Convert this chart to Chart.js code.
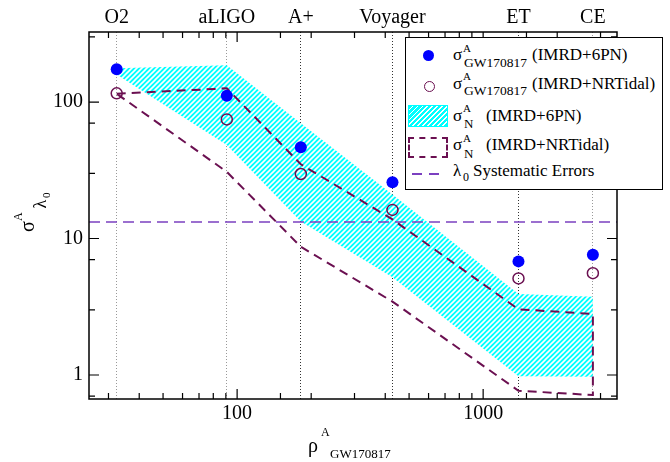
<!DOCTYPE html>
<html>
<head>
<meta charset="utf-8">
<script src="https://cdn.jsdelivr.net/npm/chart.js@4.4.1/dist/chart.umd.min.js"></script>
<style>
  body { margin: 0; background: #fff; }
  #wrap { position: relative; width: 670px; height: 462px; font-family: 'Liberation Serif', 'Times New Roman', serif; color: #000; }
  #wrap canvas { position: absolute; left: 0; top: 0; }
  .t { position: absolute; white-space: nowrap; line-height: 1; }
  #legend { position: absolute; left: 405px; top: 37px; width: 256px; height: 151px; border: 1px solid #000; background: #fff; }
  #ytitle { position: absolute; left: 16px; top: 232px; width: 0; height: 0; transform-origin: 0 0; transform: rotate(-90deg); }
  .sym { position: absolute; box-sizing: border-box; }
</style>
</head>
<body>
<div id="wrap">
  <canvas id="chart" width="670" height="462"></canvas>
  <div id="ytitle"></div>
  <div id="xtitle"></div>
  <div id="legend"></div>
</div>
<script>
// --- Data ---
const detectors = ['O2', 'aLIGO', 'A+', 'Voyager', 'ET', 'CE']
const snr = [32.4, 90.8, 181.5, 428, 1392, 2793]
const sigma6PN = [174, 111, 46.6, 25.8, 6.8, 7.6]
const sigmaNRT = [115.8, 74.6, 29.7, 16.2, 5.1, 5.57]
const band6PNUpper = [177, 186, 70, 21, 3.92, 3.75]
const band6PNLower = [159, 48.4, 13.3, 5.2, 0.98, 0.97]
const bandNRTUpper = [115, 126, 35, 13.8, 3.03, 2.8]
const bandNRTLower = [115, 30.8, 8.7, 3.45, 0.767, 0.713]
const lambda0Error = 13.2
const xRange = [25, 3500]
const yRange = [0.667, 326]

const BLUE = '#0000ff'
const MAROON = '#6b1051'
const PURPLE = '#7b40c0'
const SERIF = "'Liberation Serif', 'Times New Roman', serif"

// --- Hatch pattern for the IMRD+6PN band ---
function makeHatch() {
  const c = document.createElement('canvas')
  c.width = 5
  c.height = 5
  const g = c.getContext('2d')
  g.fillStyle = '#00ffff'
  g.fillRect(0, 0, 5, 5)
  g.strokeStyle = '#ffffff'
  g.lineWidth = 1.6
  g.beginPath()
  g.moveTo(0, 5); g.lineTo(5, 0)
  g.moveTo(-1, 1); g.lineTo(1, -1)
  g.moveTo(4, 6); g.lineTo(6, 4)
  g.stroke()
  return g.createPattern(c, 'repeat')
}

const pts = (xs, ys) => xs.map((x, i) => ({ x, y: ys[i] }))
const isDecade = v => Math.abs(Math.log10(v) - Math.round(Math.log10(v))) < 1e-6

// frame + inward tick marks on all four sides
const frameTicks = {
  id: 'frameTicks',
  afterDatasetsDraw(chart) {
    const { ctx, chartArea: a, scales } = chart
    ctx.save()
    ctx.strokeStyle = '#000'
    ctx.lineWidth = 1.2
    scales.x.ticks.forEach(t => {
      const px = scales.x.getPixelForValue(t.value)
      if (px <= a.left + 1 || px >= a.right - 1) return
      const len = isDecade(t.value) ? 10 : 6
      ctx.beginPath()
      ctx.moveTo(px, a.bottom); ctx.lineTo(px, a.bottom - len)
      ctx.moveTo(px, a.top); ctx.lineTo(px, a.top + len)
      ctx.stroke()
    })
    scales.y.ticks.forEach(t => {
      const py = scales.y.getPixelForValue(t.value)
      if (py <= a.top + 1 || py >= a.bottom - 1) return
      const len = isDecade(t.value) ? 10 : 6
      ctx.beginPath()
      ctx.moveTo(a.left, py); ctx.lineTo(a.left + len, py)
      ctx.moveTo(a.right, py); ctx.lineTo(a.right - len, py)
      ctx.stroke()
    })
    ctx.lineWidth = 1.5
    ctx.strokeRect(a.left, a.top, a.right - a.left, a.bottom - a.top)
    ctx.restore()
  }
}

const ctx = document.getElementById('chart').getContext('2d')
new Chart(ctx, {
  type: 'line',
  data: {
    datasets: [
      {
        data: pts(snr, sigma6PN), showLine: false,
        pointRadius: 6, pointBackgroundColor: BLUE, pointBorderWidth: 0
      },
      {
        data: pts(snr, sigmaNRT), showLine: false,
        pointRadius: 5.5, pointBackgroundColor: 'rgba(0,0,0,0)',
        pointBorderColor: MAROON, pointBorderWidth: 1.5
      },
      {
        // closed outline: upper edge out, lower edge back
        data: pts(snr, bandNRTUpper).concat(pts(snr, bandNRTLower).reverse()),
        borderColor: MAROON, borderWidth: 2, borderDash: [9, 6],
        pointRadius: 0, fill: false
      },
      {
        data: pts(xRange, [lambda0Error, lambda0Error]),
        borderColor: PURPLE, borderWidth: 1.5, borderDash: [11, 6],
        pointRadius: 0, fill: false
      },
      {
        data: pts(snr, band6PNUpper),
        borderColor: 'rgba(0,0,0,0)', borderWidth: 0, pointRadius: 0,
        fill: '+1', backgroundColor: makeHatch()
      },
      {
        data: pts(snr, band6PNLower),
        borderColor: 'rgba(0,0,0,0)', borderWidth: 0, pointRadius: 0, fill: false
      }
    ]
  },
  options: {
    responsive: false,
    animation: false,
    layout: { padding: { right: 53 } },
    plugins: { legend: { display: false }, tooltip: { enabled: false } },
    scales: {
      x: {
        type: 'logarithmic', position: 'bottom', min: xRange[0], max: xRange[1],
        grid: { display: false, drawTicks: false },
        border: { display: false },
        ticks: {
          autoSkip: false, maxRotation: 0, padding: 3, color: '#000',
          font: { family: SERIF, size: 20 },
          callback: v => isDecade(v) ? String(Math.round(v)) : ''
        },
        afterFit: s => { s.height = 63 }
      },
      xTop: {
        type: 'logarithmic', position: 'top', min: xRange[0], max: xRange[1],
        grid: {
          display: true, drawOnChartArea: true, drawTicks: false, lineWidth: 1,
          color: ['#999', '#999', '#333', '#333', '#333', '#999']
        },
        border: { display: false, dash: [1, 2] },
        afterBuildTicks: s => { s.ticks = snr.map(v => ({ value: v })) },
        ticks: {
          autoSkip: false, maxRotation: 0, padding: 2, color: '#000',
          font: { family: SERIF, size: 20 },
          callback: (v, i) => detectors[i]
        },
        afterFit: s => { s.height = 32 }
      },
      y: {
        type: 'logarithmic', min: yRange[0], max: yRange[1],
        grid: { display: false, drawTicks: false },
        border: { display: false },
        ticks: {
          padding: 6, color: '#000',
          font: { family: SERIF, size: 20 },
          callback: v => isDecade(v) ? String(Math.round(v)) : ''
        },
        afterFit: s => { s.width = 89 }
      }
    }
  },
  plugins: [frameTicks]
})

// --- Text overlays (titles, legend) ---
function txt(parent, str, left, baseline, size) {
  const s = document.createElement('span')
  s.className = 't'
  s.textContent = str
  s.style.fontSize = size + 'px'
  s.style.left = left + 'px'
  s.style.top = (baseline - 0.8375 * size) + 'px'
  parent.appendChild(s)
  return s
}

const xtitle = document.getElementById('xtitle')
txt(xtitle, 'ρ', 308, 452, 20)
txt(xtitle, 'A', 321, 436.5, 12)
txt(xtitle, 'GW170817', 330, 458, 13)

const ytitle = document.getElementById('ytitle')
txt(ytitle, 'σ', 0, 17.5, 20)
txt(ytitle, 'A', 11, 6, 12)
txt(ytitle, 'λ', 23.5, 30, 18)
txt(ytitle, '0', 34, 34.5, 11)

const legend = document.getElementById('legend')
const L = (x, y) => [x - 406, y - 38]
function ltxt(str, x, base, size) {
  const [lx, ly] = L(x, base)
  return txt(legend, str, lx, ly, size)
}
function sym(x, y, w, h, css) {
  const d = document.createElement('div')
  d.className = 'sym'
  const [lx, ly] = L(x, y)
  Object.assign(d.style, { left: lx + 'px', top: ly + 'px', width: w + 'px', height: h + 'px' }, css)
  legend.appendChild(d)
}

// row 1
sym(422.5, 50, 11, 11, { background: BLUE, borderRadius: '50%' })
ltxt('σ', 453, 60.7, 17); ltxt('A', 463, 52, 11); ltxt('GW170817', 464, 67, 13.5)
ltxt('(IMRD+6PN)', 532, 60.7, 17)
// row 2
sym(423.5, 80.5, 11, 11, { border: '1.5px solid ' + MAROON, borderRadius: '50%' })
ltxt('σ', 453, 89, 17); ltxt('A', 463, 80.5, 11); ltxt('GW170817', 464, 95.5, 13.5)
ltxt('(IMRD+NRTidal)', 532, 89, 17)
// row 3
sym(408, 105, 40, 22, {
  border: '1px solid #00ffff',
  background: 'repeating-linear-gradient(135deg, #00ffff 0 2.2px, #ffffff 2.2px 3.5px)'
})
ltxt('σ', 453, 121, 17); ltxt('A', 463, 112.5, 11); ltxt('N', 464, 128, 13)
ltxt('(IMRD+6PN)', 486, 121, 17)
// row 4
sym(408, 137, 40, 21, { border: '2px dashed ' + MAROON })
ltxt('σ', 453, 150.7, 17); ltxt('A', 463, 142.2, 11); ltxt('N', 464, 157.5, 13)
ltxt('(IMRD+NRTidal)', 486, 150.7, 17)
// row 5
sym(412, 173, 27, 2, {
  background: 'linear-gradient(to right, ' + PURPLE + ' 0 10px, transparent 10px 17px, ' + PURPLE + ' 17px 27px)'
})
ltxt('λ', 453, 176.5, 17); ltxt('0', 463, 181, 12)
ltxt('Systematic Errors', 473, 176.5, 17)
</script>
</body>
</html>
